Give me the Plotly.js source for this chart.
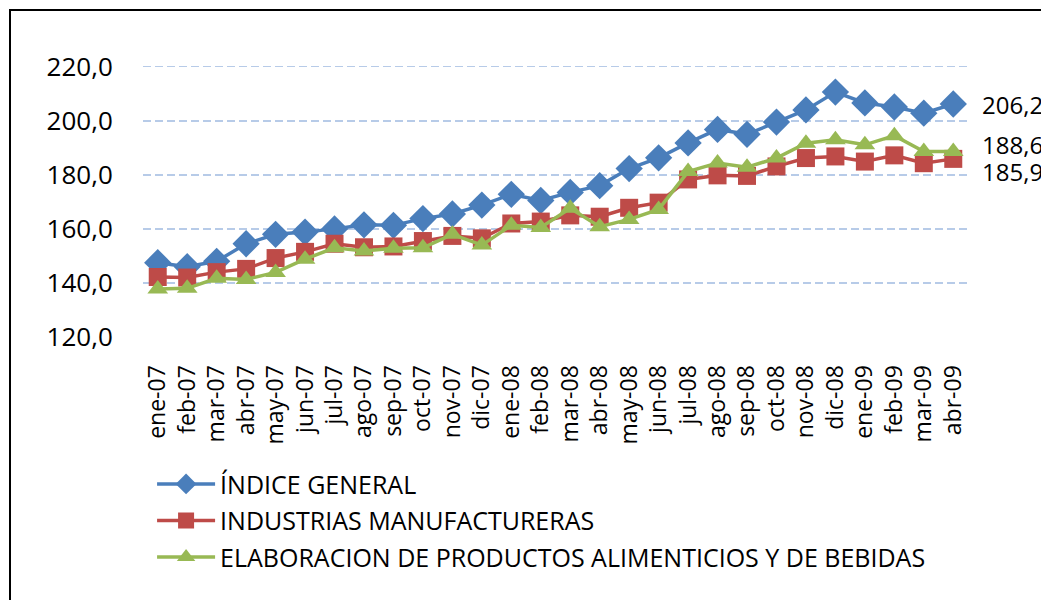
<!DOCTYPE html>
<html>
<head>
<meta charset="utf-8">
<script src="https://cdn.plot.ly/plotly-3.0.1.min.js"></script>
<style>
  html, body { margin: 0; padding: 0; background: #fff; }
  #chart { position: absolute; left: 0; top: 0; width: 1041px; height: 600px; }
  #frame { position: absolute; left: 9px; top: 9px; width: 1100px; height: 700px;
           border: 2px solid #000; pointer-events: none; }
</style>
</head>
<body>
<div id="chart"></div>
<div id="frame"></div>
<script>
const months = ["ene-07","feb-07","mar-07","abr-07","may-07","jun-07","jul-07","ago-07","sep-07","oct-07","nov-07","dic-07",
                "ene-08","feb-08","mar-08","abr-08","may-08","jun-08","jul-08","ago-08","sep-08","oct-08","nov-08","dic-08",
                "ene-09","feb-09","mar-09","abr-09"];
const indiceGeneral = [147.5,146.0,148.0,154.5,158.0,158.8,160.0,161.5,161.3,163.8,165.5,168.8,
                       172.8,170.5,173.5,176.0,182.3,186.3,191.8,196.8,195.0,199.5,204.0,210.6,
                       206.6,205.1,202.8,206.2];
const manufactureras = [142.2,142.0,144.0,145.2,149.2,151.5,154.5,153.2,153.5,155.5,157.4,156.5,
                        162.0,162.7,165.0,164.5,167.8,169.7,178.3,179.8,179.6,183.1,186.2,186.8,
                        184.9,187.2,184.3,185.9];
const alimentos = [137.8,138.0,141.7,141.3,143.9,148.8,153.0,151.8,152.8,153.0,158.0,154.0,
                   161.3,160.5,167.6,160.8,163.5,167.2,181.2,184.4,182.8,186.2,191.7,193.0,
                   191.1,194.5,188.6,188.6];
const seriesNames = ["ÍNDICE GENERAL","INDUSTRIAS MANUFACTURERAS","ELABORACION DE PRODUCTOS ALIMENTICIOS Y DE BEBIDAS"];
const yTicks = [120,140,160,180,200,220];
const yTickText = ["120,0","140,0","160,0","180,0","200,0","220,0"];
const endLabels = ["206,2","185,9","188,6"];

const FONT = "Open Sans, sans-serif";
const colors = ["#4A7EBB","#BE4B48","#98B954"];
const symbols = ["diamond","square","triangle-up"];
const sizes = [21,18,18];
const data = [indiceGeneral, manufactureras, alimentos].map((vals,i) => ({
  type: "scatter", mode: "lines+markers",
  x: months, y: vals, name: seriesNames[i], legendgroup: "g"+i,
  line: {color: colors[i], width: 3.5},
  marker: {symbol: symbols[i], size: sizes[i], color: colors[i]},
  cliponaxis: false
}));

const last = months.length - 1;
const shifts = [0, -13, 7];
const annotations = [indiceGeneral, manufactureras, alimentos].map((vals,i) => ({
  x: months[last], y: vals[last], xref: "x", yref: "y",
  text: endLabels[i], showarrow: false, xanchor: "left", yanchor: "middle",
  xshift: 27, yshift: shifts[i],
  font: {family: FONT, size: 24, color: "#000"}
}));

const layout = {
  width: 1041, height: 600,
  margin: {l: 143, r: 73, t: 64, b: 262.5},
  paper_bgcolor: "#fff", plot_bgcolor: "#fff",
  showlegend: true,
  legend: {x: 0.011, y: -0.455, xanchor: "left", yanchor: "top",
           font: {family: FONT, size: 25, color: "#000"},
           itemwidth: 58, traceorder: "grouped", tracegroupgap: 1,
           bgcolor: "rgba(0,0,0,0)"},
  xaxis: {type: "category", range: [-0.5, 27.5], showgrid: false, zeroline: false,
          showline: false, tickangle: -90, ticks: "outside", ticklen: 0,
          ticklabelstandoff: 18,
          tickfont: {family: FONT, size: 23, color: "#000"}},
  yaxis: {range: [120, 221], tickvals: yTicks, ticktext: yTickText,
          showgrid: true, gridcolor: "#B7CBE8", gridwidth: 1.5, griddash: "8px,4px",
          zeroline: false, showline: false, ticks: "outside", ticklen: 0,
          ticklabelstandoff: 24,
          tickfont: {family: FONT, size: 26, color: "#000"}},
  annotations: annotations
};

Plotly.newPlot("chart", data, layout, {displayModeBar: false, staticPlot: true});
</script>
</body>
</html>
